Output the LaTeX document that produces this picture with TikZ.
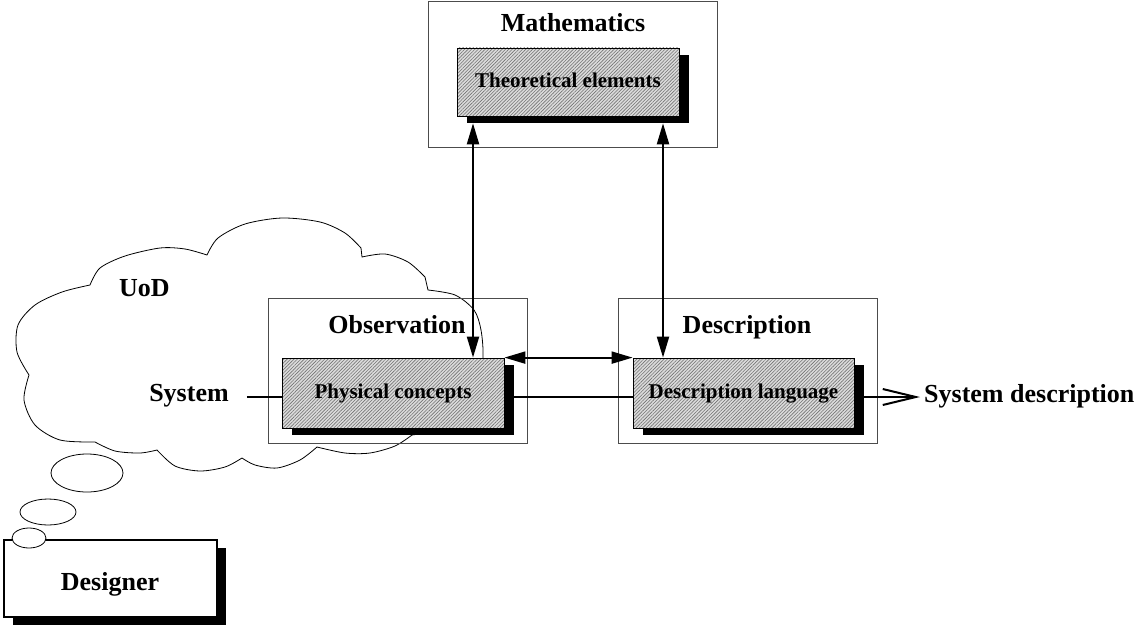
\documentclass[tikz,border=0pt]{standalone}
\usepackage{fontspec}
\setmainfont{Liberation Serif}
\usetikzlibrary{arrows.meta,patterns.meta,shadows}
\begin{document}
\begin{tikzpicture}[x=1pt,y=-1pt,
  outerbox/.style={draw=black!70, line width=0.8pt, minimum width=259pt,
    minimum height=145pt, inner sep=0pt},
  innerbox/.style={draw=black, line width=0.8pt, inner sep=0pt, minimum height=70pt,
    drop shadow={shadow xshift=10pt, shadow yshift=-7pt, fill=black, opacity=1},
    preaction={fill=gray!28},
    pattern={Lines[angle=45,distance=2.4pt,line width=0.6pt]}, pattern color=black!55,
    font=\fontsize{21}{24}\selectfont\bfseries, text height=14pt, text depth=4pt},
  lbl/.style={font=\fontsize{26}{30}\selectfont\bfseries, inner sep=0pt},
  link/.style={line width=2pt},
  bighead/.tip={Triangle[length=21pt,width=12pt]},
  cloudline/.style={line width=0.8pt},
  bubble/.style={draw, line width=0.8pt, fill=white},
]
\useasboundingbox (0,0) rectangle (1139,626);

% universe of discourse cloud
\draw[cloudline]
  plot[smooth] coordinates {(29,375) (17,352) (18,325) (35,305) (62,292) (90,285)}
  -- plot[smooth] coordinates {(90,285) (100,268) (125,256) (160,248) (185,249) (207,255)}
  -- plot[smooth] coordinates {(207,255) (218,238) (245,224) (282,218) (320,222) (345,233) (361,248)}
  -- (362,257)
  -- plot[smooth] coordinates {(362,257) (385,254) (408,262) (425,277)}
  -- (428,290)
  -- plot[smooth] coordinates {(428,290) (455,295) (474,310) (481,330) (483,358) (478,395) (455,425) (412,435)}
  -- plot[smooth] coordinates {(412,435) (395,446) (370,453) (345,453) (317,447)}
  -- plot[smooth] coordinates {(317,447) (300,460) (277,468) (255,465) (242,458)}
  -- plot[smooth] coordinates {(242,458) (225,467) (200,471) (175,466) (157,450)}
  -- plot[smooth] coordinates {(157,450) (140,453) (115,451) (95,442)}
  -- plot[smooth] coordinates {(95,442) (60,440) (35,425) (24,400) (29,375)};
\node[lbl, anchor=base] (uod) at (144.5,296) {UoD};

% Mathematics
\node[outerbox, minimum width=289pt, minimum height=145.5pt] (mathbox) at (572.5,74.25) {};
\node[lbl, anchor=base] (mathlbl) at (573,32) {Mathematics};
\node[innerbox, minimum width=222pt, minimum height=68pt] (theo) at (568,82) {Theoretical elements};

% Observation
\node[outerbox] (obsbox) at (397.5,370.5) {};
\node[lbl, anchor=base] (obslbl) at (397,333) {Observation};
\node[innerbox, minimum width=222pt] (phys) at (393,393) {Physical concepts};

% Description
\node[outerbox] (descbox) at (747.5,370.5) {};
\node[lbl, anchor=base] (desclbl) at (747,333) {Description};
\node[innerbox, minimum width=221pt] (dlang) at (743.5,393) {Description language};

% input and output
\node[lbl, anchor=base, inner xsep=18pt] (sys) at (189,401) {System};
\node[lbl, anchor=base west, inner xsep=4pt] (sysd) at (920,402) {System description};

% Designer with thought bubbles
\draw[bubble] (87,473) ellipse [x radius=36, y radius=19];
\draw[bubble] (48,512) ellipse [x radius=28, y radius=13];
\node[draw, line width=2pt, fill=white, minimum width=213pt, minimum height=77pt,
  drop shadow={shadow xshift=9pt, shadow yshift=-8pt, fill=black, opacity=1}] (designer) at (110.5,578.5) {};
\draw[bubble] (29,538) ellipse [x radius=17, y radius=10];
\node[lbl, anchor=base] (designerlbl) at (110,590) {Designer};

% connectors
\coordinate (ax1) at (473,0);
\coordinate (ax2) at (663,0);
\coordinate (ly) at (0,397);
\draw[link, bighead-bighead] (phys.north -| ax1) -- ([yshift=-7pt]theo.south -| ax1);
\draw[link, bighead-bighead] (dlang.north -| ax2) -- ([yshift=-7pt]theo.south -| ax2);
\draw[link, bighead-bighead] (phys.north east) -- (dlang.north west);
\draw[link] (sys.east |- ly) -- (phys.west |- ly);
\draw[link] (phys.east |- ly) -- (dlang.west |- ly);
\draw[link, -{Straight Barb[length=33pt,width=16pt]}] (dlang.east |- ly) -- (sysd.west |- ly);
\end{tikzpicture}
\end{document}
